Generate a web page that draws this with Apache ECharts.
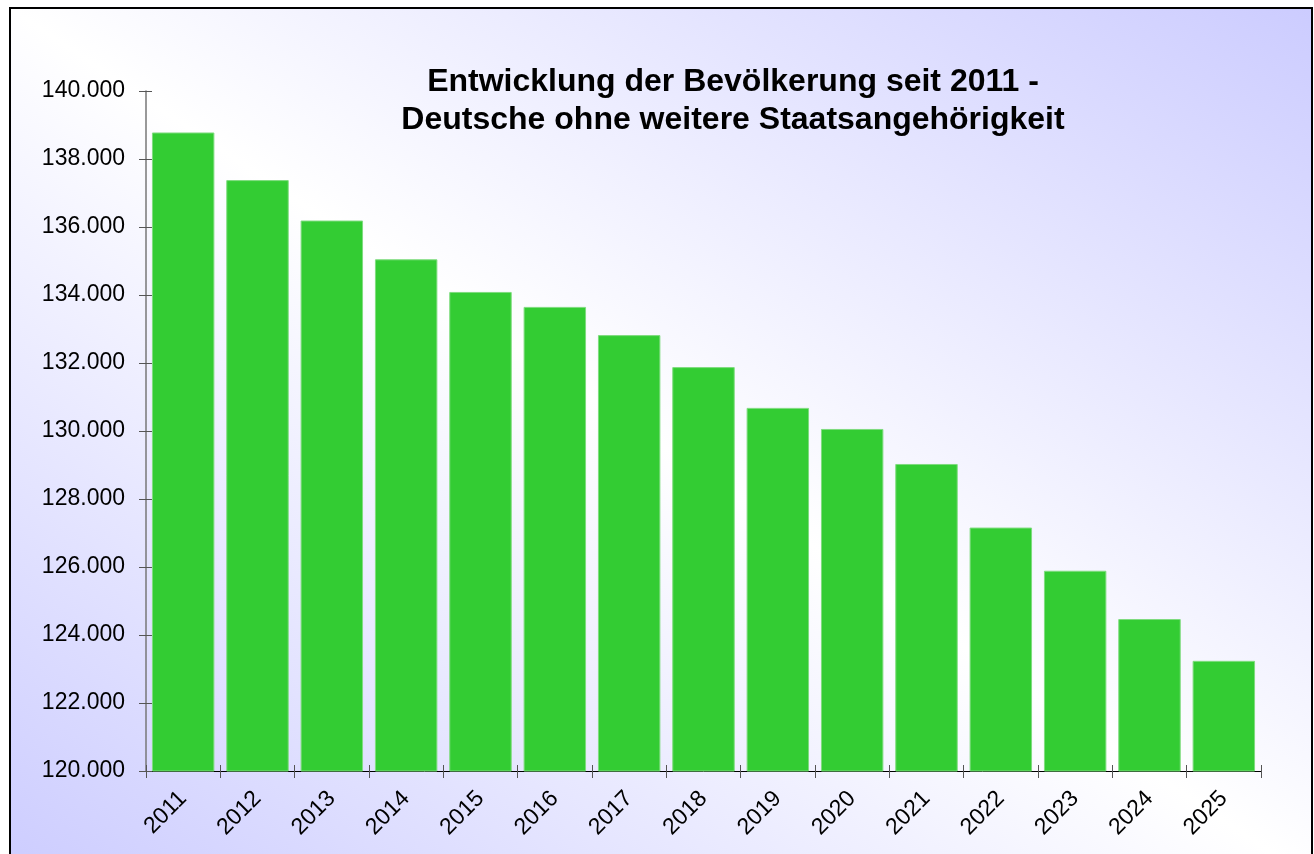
<!DOCTYPE html>
<html>
<head>
<meta charset="utf-8">
<script src="https://cdn.jsdelivr.net/npm/echarts@6/dist/echarts.min.js"></script>
<style>
html,body{margin:0;padding:0;background:#fff;}
#rahmen{position:absolute;left:9px;top:7px;width:1300px;height:870px;border:2px solid #000;
  background:linear-gradient(to top right,#ccccff 0%,#ffffff 50%,#ccccff 100%);}
#chart{position:absolute;left:0;top:0;width:1314px;height:854px;}
</style>
</head>
<body>
<div id="rahmen"></div>
<div id="chart"></div>
<script>
var years = ['2011','2012','2013','2014','2015','2016','2017','2018','2019','2020','2021','2022','2023','2024','2025'];
var einwohner = [138780,137380,136190,135050,134090,133650,132820,131880,130680,130060,129030,127160,125890,124470,123240];
var yMin = 120000, yMax = 140000, yStep = 2000;
var titel = 'Entwicklung der Bevölkerung seit 2011 -\nDeutsche ohne weitere Staatsangehörigkeit';

function punkt(v) {
    return String(v).replace(/\B(?=(\d{3})+(?!\d))/g, '.');
}

var dom = document.getElementById('chart');
var myChart = echarts.init(dom);
var fontF = '"Liberation Sans", Arial, sans-serif';

var option = {
    animation: false,
    backgroundColor: 'transparent',
    title: {
        text: titel,
        left: 728,
        top: 58,
        textAlign: 'center',
        textStyle: {
            fontFamily: fontF,
            fontSize: 32,
            fontWeight: 'bold',
            color: '#000',
            lineHeight: 38
        }
    },
    grid: {left: 146, right: 53, top: 91, bottom: 83, containLabel: false},
    xAxis: [{
        type: 'category',
        data: years,
        axisLine: {lineStyle: {color: '#000', width: 1}},
        axisTick: {show: true, length: 7, lineStyle: {color: '#555'}},
        axisLabel: {
            rotate: 45,
            fontFamily: fontF,
            fontSize: 23,
            color: '#000',
            margin: 24
        }
    }, {
        type: 'category',
        data: years,
        position: 'bottom',
        axisLine: {show: false},
        axisTick: {show: true, inside: true, length: 6, lineStyle: {color: '#555'}},
        axisLabel: {show: false}
    }],
    yAxis: [{
        type: 'value',
        min: yMin,
        max: yMax,
        interval: yStep,
        axisLine: {show: true, lineStyle: {color: '#777', width: 1.5}},
        axisTick: {show: true, length: 7, lineStyle: {color: '#555'}},
        splitLine: {show: false},
        axisLabel: {
            formatter: punkt,
            fontFamily: fontF,
            fontSize: 23,
            color: '#000',
            margin: 21
        }
    }, {
        type: 'value',
        min: yMin,
        max: yMax,
        interval: yStep,
        position: 'left',
        axisLine: {show: false},
        axisTick: {show: true, inside: true, length: 6, lineStyle: {color: '#555'}},
        splitLine: {show: false},
        axisLabel: {show: false}
    }],
    series: [{
        type: 'bar',
        data: einwohner,
        barCategoryGap: '16%',
        itemStyle: {
            color: '#33cc33',
            borderColor: '#7fdc7f',
            borderWidth: 1
        }
    }]
};
myChart.setOption(option);
</script>
</body>
</html>
